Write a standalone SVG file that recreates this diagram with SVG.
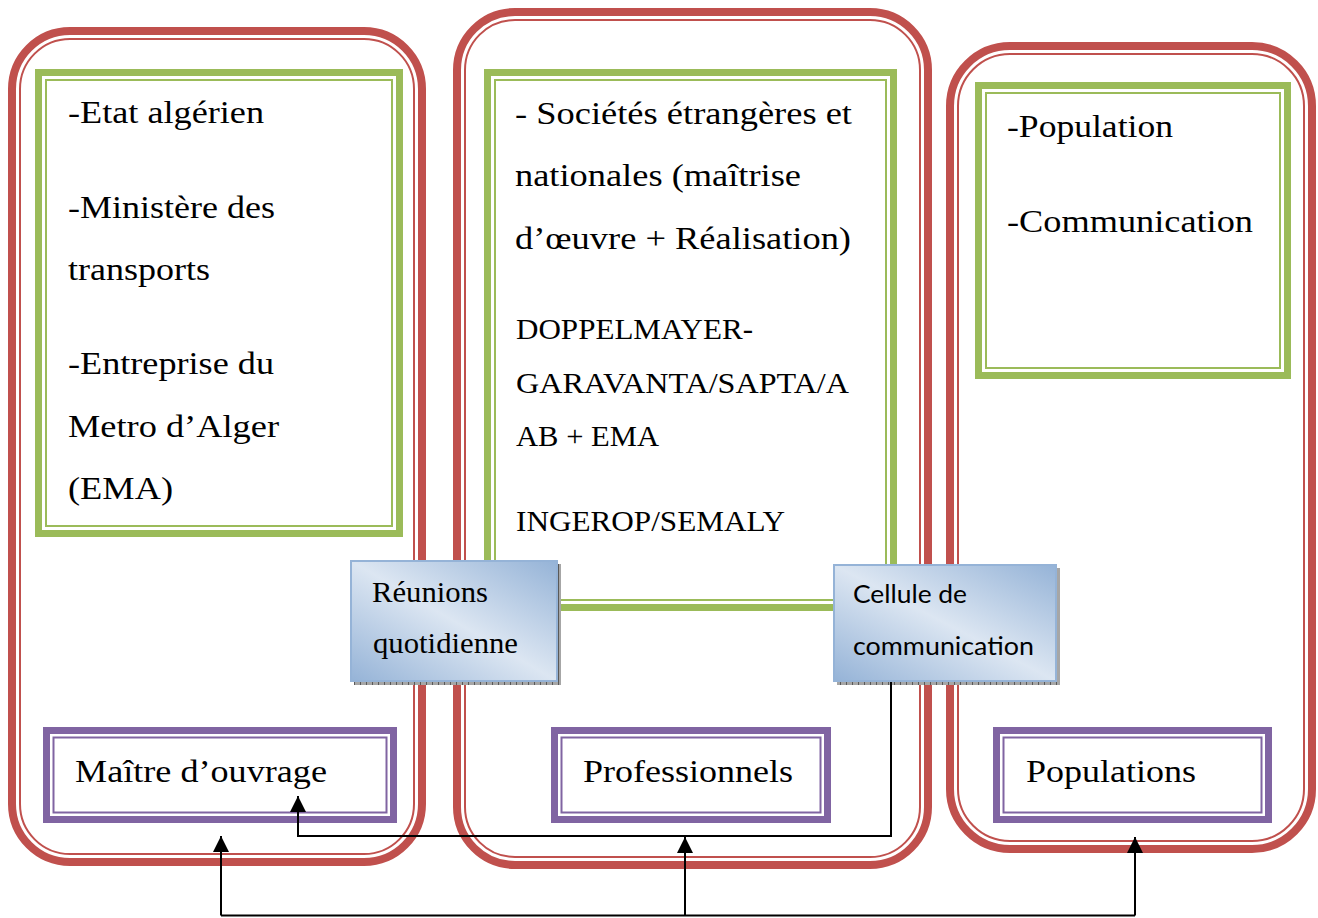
<svg xmlns="http://www.w3.org/2000/svg" width="1318" height="918" viewBox="0 0 1318 918">
<style>
.redT{fill:none;stroke:#C0504D;stroke-width:8}
.redt{fill:none;stroke:#C0504D;stroke-width:2}
.grnT{fill:#fff;stroke:#9BBB59;stroke-width:7}
.grnt{fill:none;stroke:#9BBB59;stroke-width:2}
.purT{fill:#fff;stroke:#8064A2;stroke-width:7}
.purt{fill:none;stroke:#8064A2;stroke-width:2}
.blue{fill:url(#bg);stroke:#95B3D7;stroke-width:2}
.shad{fill:url(#hatch)}
.tr{font-family:"Liberation Serif","Times New Roman",serif;font-size:31px;fill:#000}
.tc{font-family:"Liberation Serif","Times New Roman",serif;font-size:29px;fill:#000}
.tb{font-family:"Liberation Serif","Times New Roman",serif;font-size:30px;fill:#000}
.ts{font-family:Lato,"Open Sans",sans-serif;font-size:25px;fill:#000}
.con{fill:none;stroke:#000;stroke-width:2}
</style>
<defs>
<linearGradient id="bg" x1="0" y1="1" x2="1" y2="0">
<stop offset="0" stop-color="#95B3D7"/>
<stop offset="0.5" stop-color="#DCE6F2"/>
<stop offset="1" stop-color="#95B3D7"/>
</linearGradient>
<pattern id="hatch" width="6" height="4" patternUnits="userSpaceOnUse">
<rect width="6" height="4" fill="#A6A6A6"/>
<rect width="1" height="4" fill="#595959"/>
</pattern>
<marker id="ah" markerUnits="userSpaceOnUse" markerWidth="16" markerHeight="16" refX="16" refY="8" orient="auto">
<path d="M0,0 L16,8 L0,16 z" fill="#000"/>
</marker>
</defs>
<rect width="1318" height="918" fill="#fff"/>

<g id="frame-left">
<rect class="redT" x="12" y="31" width="410" height="831" rx="58"/>
<rect class="redt" x="20" y="39" width="394" height="815" rx="50"/>
</g>
<g id="frame-middle">
<rect class="redT" x="457" y="12" width="471" height="853" rx="58"/>
<rect class="redt" x="465" y="20" width="455" height="837" rx="50"/>
</g>
<g id="frame-right">
<rect class="redT" x="950" y="46" width="362" height="803" rx="60"/>
<rect class="redt" x="958" y="54" width="346" height="787" rx="52"/>
</g>

<g id="box-left">
<rect class="grnT" x="38.5" y="72.5" width="361" height="461"/>
<rect class="grnt" x="46" y="80" width="346" height="446"/>
<text class="tr" x="68" y="123" textLength="196" lengthAdjust="spacingAndGlyphs">-Etat algérien</text>
<text class="tr" x="68" y="218" textLength="207" lengthAdjust="spacingAndGlyphs">-Ministère des</text>
<text class="tr" x="68" y="280" textLength="142" lengthAdjust="spacingAndGlyphs">transports</text>
<text class="tr" x="68" y="374" textLength="206" lengthAdjust="spacingAndGlyphs">-Entreprise du</text>
<text class="tr" x="68" y="437" textLength="211" lengthAdjust="spacingAndGlyphs">Metro d’Alger</text>
<text class="tr" x="68" y="499" textLength="105" lengthAdjust="spacingAndGlyphs">(EMA)</text>
</g>

<g id="box-middle">
<rect class="grnT" x="487.5" y="72.5" width="406" height="535"/>
<rect class="grnt" x="495" y="80" width="391" height="520"/>
<text class="tr" x="515" y="124" textLength="337" lengthAdjust="spacingAndGlyphs">- Sociétés étrangères et</text>
<text class="tr" x="515" y="186" textLength="286" lengthAdjust="spacingAndGlyphs">nationales (maîtrise</text>
<text class="tr" x="515" y="249" textLength="336" lengthAdjust="spacingAndGlyphs">d’œuvre + Réalisation)</text>
<text class="tc" x="516" y="339" textLength="237" lengthAdjust="spacingAndGlyphs">DOPPELMAYER-</text>
<text class="tc" x="516" y="393" textLength="333" lengthAdjust="spacingAndGlyphs">GARAVANTA/SAPTA/A</text>
<text class="tc" x="516" y="446" textLength="143" lengthAdjust="spacingAndGlyphs">AB + EMA</text>
<text class="tc" x="516" y="531" textLength="269" lengthAdjust="spacingAndGlyphs">INGEROP/SEMALY</text>
</g>

<g id="box-right">
<rect class="grnT" x="978.5" y="85.5" width="309" height="290"/>
<rect class="grnt" x="986" y="93" width="294" height="275"/>
<text class="tr" x="1007" y="137" textLength="166" lengthAdjust="spacingAndGlyphs">-Population</text>
<text class="tr" x="1007" y="232" textLength="246" lengthAdjust="spacingAndGlyphs">-Communication</text>
</g>

<g id="label-maitre">
<rect class="purT" x="46.5" y="730.5" width="347" height="89"/>
<rect class="purt" x="53.5" y="737.5" width="333" height="75"/>
<text class="tr" x="75" y="782" textLength="252" lengthAdjust="spacingAndGlyphs">Maître d’ouvrage</text>
</g>
<g id="label-professionnels">
<rect class="purT" x="554.5" y="730.5" width="273" height="89"/>
<rect class="purt" x="561.5" y="737.5" width="259" height="75"/>
<text class="tr" x="583" y="782" textLength="210" lengthAdjust="spacingAndGlyphs">Professionnels</text>
</g>
<g id="label-populations">
<rect class="purT" x="996.5" y="730.5" width="272" height="89"/>
<rect class="purt" x="1003.5" y="737.5" width="258" height="75"/>
<text class="tr" x="1026" y="782" textLength="170" lengthAdjust="spacingAndGlyphs">Populations</text>
</g>

<g id="reunions">
<rect class="shad" x="354" y="564" width="207" height="121"/>
<rect class="blue" x="351" y="561" width="206" height="120"/>
<text class="tb" x="372" y="602" textLength="116" lengthAdjust="spacingAndGlyphs">Réunions</text>
<text class="tb" x="373" y="653" textLength="145" lengthAdjust="spacingAndGlyphs">quotidienne</text>
</g>
<g id="cellule">
<rect class="shad" x="837" y="568" width="223" height="117"/>
<rect class="blue" x="834" y="565" width="222" height="116"/>
<text class="ts" x="853" y="603" textLength="114" lengthAdjust="spacingAndGlyphs">Cellule de</text>
<text class="ts" x="853" y="655" textLength="181" lengthAdjust="spacingAndGlyphs">communication</text>
</g>

<g id="connectors">
<path class="con" d="M891,682 V836 H298 V796" marker-end="url(#ah)"/>
<path class="con" d="M221,915.5 H1135"/>
<path class="con" d="M221,915.5 V836" marker-end="url(#ah)"/>
<path class="con" d="M685,915.5 V837" marker-end="url(#ah)"/>
<path class="con" d="M1135,915.5 V837" marker-end="url(#ah)"/>
</g>
</svg>
